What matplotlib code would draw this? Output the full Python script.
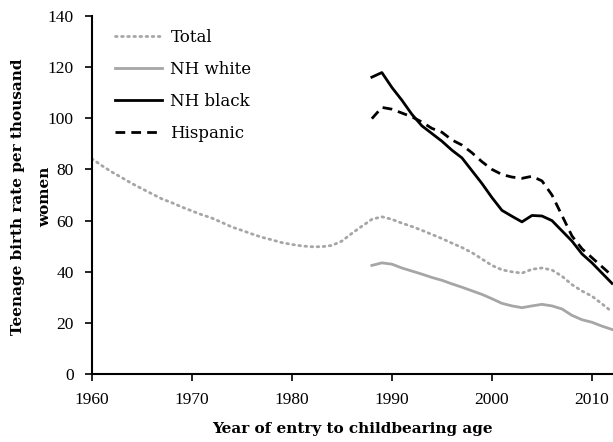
import matplotlib
matplotlib.use("Agg")
import matplotlib.pyplot as plt

plt.rcParams["font.family"] = ["DejaVu Serif"]

# Teenage birth rate per thousand women, by year of entry to childbearing age
YEARS_TOTAL = list(range(1960, 2013))
TOTAL = [84.2, 81.5, 79.0, 76.8, 74.5, 72.5, 70.5, 68.5, 67.0, 65.3,
         63.8, 62.3, 61.0, 59.3, 57.5, 56.2, 54.8, 53.5, 52.5, 51.4,
         50.7, 50.1, 49.8, 49.8, 50.3, 52.0, 55.0, 57.8, 60.5, 61.5,
         60.5, 59.0, 57.7, 56.2, 54.6, 53.0, 51.2, 49.5, 47.5, 45.0,
         42.5, 40.8, 40.0, 39.5, 41.0, 41.5, 40.7, 38.3, 35.0, 32.5,
         30.5, 27.5, 24.4]

YEARS_GROUP = list(range(1988, 2013))
NH_WHITE = [42.5, 43.5, 43.0, 41.5, 40.3, 39.1, 37.8, 36.7, 35.3, 34.0,
            32.6, 31.2, 29.5, 27.7, 26.7, 26.0, 26.7, 27.3, 26.7, 25.5,
            23.0, 21.3, 20.3, 18.8, 17.5]
NH_BLACK = [116.0, 117.8, 112.0, 107.0, 101.5, 97.0, 94.0, 91.0, 87.5, 84.5,
            79.5, 74.5, 69.0, 64.0, 61.7, 59.5, 62.0, 61.8, 60.0, 56.0,
            52.0, 47.0, 43.5, 39.5, 35.5]
HISPANIC = [99.8, 104.2, 103.5, 102.0, 100.5, 98.5, 96.0, 94.5, 91.5, 89.5,
            86.5, 83.0, 80.0, 78.0, 77.0, 76.5, 77.3, 75.5, 70.0, 62.0,
            54.0, 49.0, 45.5, 42.0, 38.5]

fig = plt.figure(figsize=(6.13, 4.42), dpi=100)
ax = fig.add_axes([0.1496, 0.1532, 0.8504, 0.8113])

ax.plot(YEARS_TOTAL, TOTAL, color="#a6a6a6", linewidth=2.0,
        linestyle=(0, (0.6, 1.6)), dash_capstyle="round", label="Total")
ax.plot(YEARS_GROUP, NH_WHITE, color="#a6a6a6", linewidth=2.0, label="NH white")
ax.plot(YEARS_GROUP, NH_BLACK, color="black", linewidth=2.0, label="NH black")
ax.plot(YEARS_GROUP, HISPANIC, color="black", linewidth=2.0,
        linestyle=(0, (3.5, 2.2)), label="Hispanic")

ax.set_xlim(1960, 2012.1)
ax.set_ylim(0, 140)
ax.set_xticks([1960, 1970, 1980, 1990, 2000, 2010])
ax.set_yticks(range(0, 141, 20))
ax.tick_params(direction="out", length=5, width=1.2, labelsize=12.5, pad=8)
for lbl in ax.get_xticklabels() + ax.get_yticklabels():
    lbl.set_family("Liberation Serif")
for side in ("top", "right"):
    ax.spines[side].set_visible(False)
for side in ("left", "bottom"):
    ax.spines[side].set_linewidth(1.5)

ax.set_xlabel("Year of entry to childbearing age", fontsize=11,
              fontweight="bold", labelpad=10)

# y label wraps onto two lines, each centred on the axis
ylab = dict(rotation=90, ha="center", va="center", fontsize=11, fontweight="bold")
fig.text(0.030, 0.554, "Teenage birth rate per thousand", **ylab)
fig.text(0.074, 0.554, "women", **ylab)

ax.legend(loc="upper left", frameon=False, fontsize=12, handlelength=2.8,
          handletextpad=0.5, labelspacing=0.9, borderaxespad=0.4,
          bbox_to_anchor=(0.02, 1.0))

fig.savefig("out.png", dpi=100)
